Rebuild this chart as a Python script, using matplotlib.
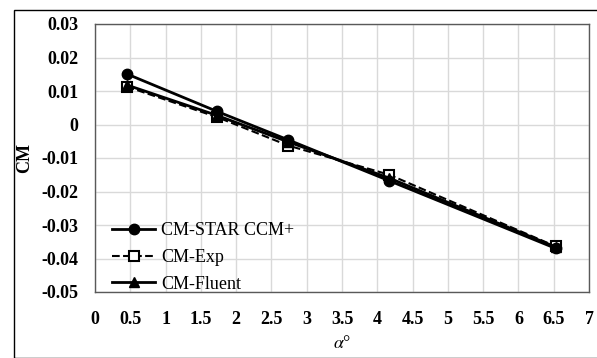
import matplotlib
matplotlib.use("Agg")
import matplotlib.pyplot as plt
from matplotlib.patches import Rectangle

alpha = [0.45, 1.73, 2.74, 4.17, 6.53]
cm_star = [0.0151, 0.0039, -0.0046, -0.0168, -0.0370]
cm_exp = [0.0113, 0.0022, -0.0063, -0.0150, -0.0364]
cm_fluent = [0.0118, 0.0027, -0.0052, -0.0160, -0.0366]

x_ticks = [0, 0.5, 1, 1.5, 2, 2.5, 3, 3.5, 4, 4.5, 5, 5.5, 6, 6.5, 7]
y_ticks = [0.03, 0.02, 0.01, 0, -0.01, -0.02, -0.03, -0.04, -0.05]

plt.rcParams['font.family'] = ['Liberation Serif', 'DejaVu Serif']
plt.rcParams['mathtext.fontset'] = 'stix'

fig = plt.figure(figsize=(5.97, 3.58), dpi=100)
ax = fig.add_axes([95/597, 1-292/358, (589-95)/597, (292-24)/358])

ax.plot(alpha, cm_star, '-o', color='black', lw=2, ms=7.5, label='CM-STAR CCM+', zorder=4)
ax.plot(alpha, cm_exp, '--s', color='black', lw=1.5, ms=6.5, mfc='white', mew=1.5, label='CM-Exp', zorder=3)
ax.plot(alpha, cm_fluent, '-^', color='black', lw=2, ms=7.5, label='CM-Fluent', zorder=5)

ax.set_xlim(0, 7)
ax.set_ylim(-0.05, 0.03)
ax.set_xticks(x_ticks)
ax.set_xticklabels([f"{t:g}" for t in x_ticks], fontweight='bold', fontsize=13)
ax.set_yticks(y_ticks)
ax.set_yticklabels([f"{t:g}" for t in y_ticks], fontweight='bold', fontsize=13)
ax.tick_params(axis='y', length=0, pad=12)
ax.tick_params(axis='x', length=0, pad=14)
ax.grid(True, color='#d9d9d9', lw=1)
ax.set_axisbelow(True)
for s in ax.spines.values():
    s.set_color('#595959')
    s.set_linewidth(1)

ax.set_xlabel(r'$\alpha$°', fontsize=13, labelpad=5)
ax.set_ylabel('CM', fontweight='bold', fontsize=13, labelpad=6)

leg = ax.legend(loc='lower left', bbox_to_anchor=(0.02, -0.03), frameon=False, fontsize=13,
                handlelength=2.4, borderaxespad=0.0, labelspacing=0.55, handletextpad=0.3)

fig.patches.append(Rectangle((14/597, 0), 1, 1-10/358, transform=fig.transFigure,
                             fill=False, edgecolor='black', lw=1))

fig.savefig('out.png', dpi=100)
